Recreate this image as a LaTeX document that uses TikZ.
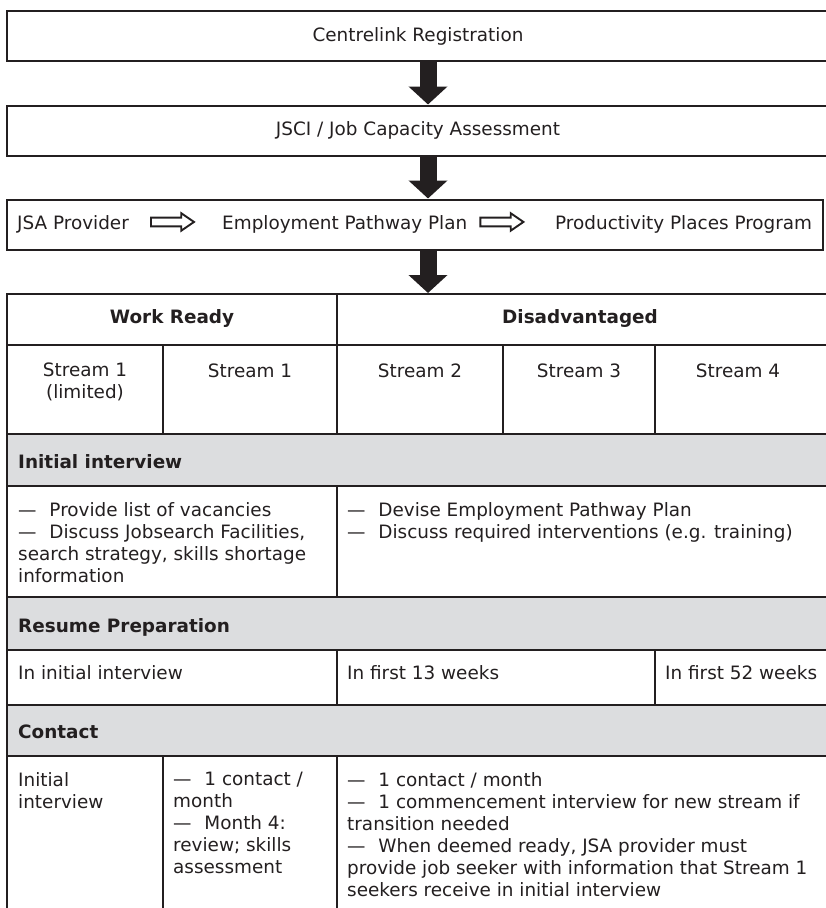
\documentclass[tikz,border=0pt]{standalone}
\usepackage{fontspec}
\setmainfont{DejaVu Sans}
\usetikzlibrary{arrows.meta,positioning,shapes.arrows}
\definecolor{inkgrey}{RGB}{35,31,32}
\definecolor{rowgrey}{RGB}{220,221,223}
\newcommand{\itemdash}{—\hspace{0.7em}}

\begin{document}
\begin{tikzpicture}[
  x=1pt, y=-1pt,
  font=\fontsize{18.4}{22}\selectfont,
  color=inkgrey,
  bx/.style={draw=inkgrey, line width=2pt, minimum height=50pt, inner sep=0pt},
  txt/.style={inner sep=0pt, text height=13.9pt, text depth=4.2pt},
  hd/.style={txt, font=\fontsize{18.4}{22}\selectfont\bfseries},
  cell/.style={inner sep=0pt, align=left, anchor=north west},
  bigarr/.style={-{Triangle[length=18pt,width=38pt]}, line width=17pt, draw=inkgrey},
  hollowarr/.style={single arrow, draw=inkgrey, line width=1.9pt, inner sep=0pt,
                    text height=6.8pt, text depth=0pt, minimum height=43pt,
                    single arrow head extend=4.4pt, single arrow tip angle=69},
  tline/.style={line width=1.7pt, draw=inkgrey}
]
\useasboundingbox (0,0) rectangle (825,908);

% flow boxes
\node[bx, minimum width=822pt] (reg)  at (418,36)    {Centrelink Registration};
\node[bx, minimum width=822pt] (jsci) at (418,130.5) {JSCI / Job Capacity Assessment};
\node[bx, minimum width=816pt] (plan) at (415,224.5) {};
\node[txt, anchor=base west] (jsa) at (17,229) {JSA Provider};
\node[hollowarr, right=21pt of jsa, yshift=2.2pt] (ar1) {};
\node[txt, anchor=base west] (epp) at (222,229) {Employment Pathway Plan};
\node[hollowarr, right=12pt of epp, yshift=2.2pt] (ar2) {};
\node[txt, anchor=base west] (ppp) at (555,229) {Productivity Places Program};

\coordinate (ax) at (428,0);
\coordinate (tabtop) at (428,293);
\draw[bigarr] (reg.south -| ax) -- (jsci.north -| ax);
\draw[bigarr] (jsci.south -| ax) -- (plan.north -| ax);
\draw[bigarr] (plan.south -| ax) -- (tabtop);

% table
\fill[rowgrey] (7,434) rectangle (830,486);
\fill[rowgrey] (7,597) rectangle (830,650);
\fill[rowgrey] (7,705) rectangle (830,756);
\draw[tline] (7,910) -- (7,294) -- (830,294);
\foreach \y in {345,434,486,597,650,705,756}
  \draw[tline] (7,\y) -- (830,\y);
\draw[tline] (337,294) -- (337,434) (337,486) -- (337,597)
             (337,650) -- (337,705) (337,756) -- (337,910);
\draw[tline] (163,345) -- (163,434) (163,756) -- (163,910);
\draw[tline] (503,345) -- (503,434);
\draw[tline] (655,345) -- (655,434) (655,650) -- (655,705);

\node[hd, anchor=base] (wr)  at (172,323) {Work Ready};
\node[hd, anchor=base] (dis) at (580,323) {Disadvantaged};
\node[cell, anchor=north, align=center] (s1l) at (85,363) {Stream 1\\(limited)};
\node[txt, anchor=base] (s1) at (250,377) {Stream 1};
\node[txt, anchor=base] (s2) at (420,377) {Stream 2};
\node[txt, anchor=base] (s3) at (579,377) {Stream 3};
\node[txt, anchor=base] (s4) at (738,377) {Stream 4};

\node[hd, anchor=base west] (ii) at (18,468) {Initial interview};
\node[cell] (iiwr) at (18,502)
  {\itemdash Provide list of vacancies\\\itemdash Discuss Jobsearch Facilities,\\search strategy, skills shortage\\information};
\node[cell] (iidis) at (347,502)
  {\itemdash Devise Employment Pathway Plan\\\itemdash Discuss required interventions (e.g. training)};

\node[hd, anchor=base west] (rp) at (18,632) {Resume Preparation};
\node[txt, anchor=base west] (rpwr) at (18,679)  {In initial interview};
\node[txt, anchor=base west] (rp13) at (347,679) {In first 13 weeks};
\node[txt, anchor=base west] (rp52) at (665,679) {In first 52 weeks};

\node[hd, anchor=base west] (ct) at (18,738) {Contact};
\node[cell] (ctl) at (18,772) {Initial\\interview};
\node[cell] (ctwr) at (173,772)
  {\itemdash 1 contact /\\month\\\itemdash Month 4:\\review; skills\\assessment};
\node[cell] (ctdis) at (347,772)
  {\itemdash 1 contact / month\\\itemdash 1 commencement interview for new stream if\\transition needed\\\itemdash When deemed ready, JSA provider must\\provide job seeker with information that Stream 1\\seekers receive in initial interview};
\end{tikzpicture}
\end{document}
